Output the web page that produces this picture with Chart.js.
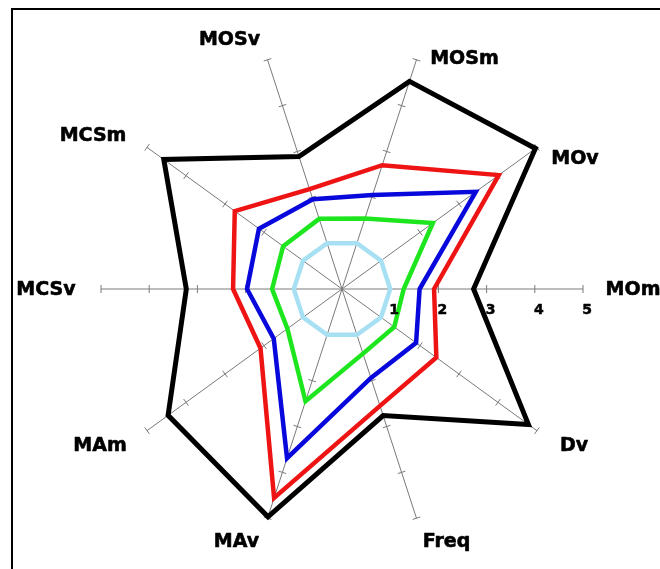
<!DOCTYPE html>
<html>
<head>
<meta charset="utf-8">
<title>Radar profile</title>
<script src="https://cdn.jsdelivr.net/npm/chart.js@4.4.1/dist/chart.umd.min.js"></script>
<style>
  html, body { margin: 0; padding: 0; background: #ffffff; }
  #wrap { position: relative; width: 660px; height: 569px; overflow: hidden; }
  canvas { display: block; }
</style>
</head>
<body>
<div id="wrap"><canvas id="radar" width="660" height="569"></canvas></div>
<script>
// Axis names, clockwise starting from the right-hand axis
const categories = ['MOm', 'Dv', 'Freq', 'MAv', 'MAm', 'MCSv', 'MCSm', 'MOSv', 'MOSm', 'MOv'];

// Series values, one per axis
const outerSeries = [2.73, 4.78, 2.76, 4.97, 4.46, 3.23, 4.57, 2.89, 4.53, 4.96];
const redSeries   = [1.91, 2.42, 2.55, 4.56, 2.09, 2.26, 2.75, 2.18, 2.70, 4.02];
const blueSeries  = [1.61, 1.90, 1.94, 3.69, 1.75, 1.97, 2.13, 1.96, 2.05, 3.43];
const greenSeries = [1.28, 1.34, 1.41, 2.45, 1.40, 1.45, 1.51, 1.53, 1.54, 2.33];
const innerSeries = [1, 1, 1, 1, 1, 1, 1, 1, 1, 1];

// Scale tick values shown along the first axis
const tickValues = [1, 2, 3, 4, 5];

// Label nudges (px) from each axis end, and style settings
const labelNudge = [[50, 1], [37, 15], [30, 24], [-31, 24], [-47, 15], [-55, 1], [-54, -11], [-38, -20], [48, -1], [38, 12]];
const labelFont = 'bold 19px "DejaVu Sans", Verdana, sans-serif';
const tickFont = 'bold 14px "DejaVu Sans", Verdana, sans-serif';
const axisColor = '#7a7a7a';

// draws text a touch heavier than the plain bold face
function heavyText(ctx, text, x, y, weight) {
  ctx.lineWidth = weight;
  ctx.strokeStyle = ctx.fillStyle;
  ctx.lineJoin = 'round';
  ctx.strokeText(text, x, y);
  ctx.fillText(text, x, y);
}

const axisDecor = {
  id: 'axisDecor',
  beforeDraw(chart) {
    const ctx = chart.ctx;
    ctx.save();
    ctx.fillStyle = '#ffffff';
    ctx.fillRect(0, 0, chart.width, chart.height);
    ctx.strokeStyle = '#000000';
    ctx.lineWidth = 2;
    ctx.strokeRect(12, 9, 1000, 1000);
    ctx.restore();
  },
  beforeDatasetsDraw(chart) {
    // small cross ticks on every axis at each integer step
    const scale = chart.scales.r;
    const ctx = chart.ctx;
    ctx.save();
    ctx.strokeStyle = axisColor;
    ctx.lineWidth = 1;
    for (let i = 0; i < categories.length; i++) {
      const a = scale.getIndexAngle(i) - Math.PI / 2;
      const nx = -Math.sin(a), ny = Math.cos(a);
      tickValues.forEach(v => {
        const p = scale.getPointPositionForValue(i, v);
        ctx.beginPath();
        ctx.moveTo(p.x - nx * 4, p.y - ny * 4);
        ctx.lineTo(p.x + nx * 4, p.y + ny * 4);
        ctx.stroke();
      });
    }
    ctx.restore();
  },
  afterDatasetsDraw(chart) {
    const scale = chart.scales.r;
    const ctx = chart.ctx;
    ctx.save();
    ctx.fillStyle = '#000000';
    ctx.textAlign = 'center';
    ctx.textBaseline = 'middle';
    // tick numbers under the first axis
    ctx.font = tickFont;
    tickValues.forEach(v => {
      const p = scale.getPointPositionForValue(0, v);
      heavyText(ctx, String(v), p.x + 4, p.y + 21, 0.5);
    });
    // axis names beyond the axis ends
    ctx.font = labelFont;
    categories.forEach((name, i) => {
      const p = scale.getPointPosition(i, scale.drawingArea);
      heavyText(ctx, name, p.x + labelNudge[i][0], p.y + labelNudge[i][1], 0.6);
    });
    ctx.restore();
  }
};

function line(data, color, width) {
  return {
    data: data,
    borderColor: color,
    backgroundColor: 'transparent',
    borderWidth: width,
    fill: false,
    pointRadius: 0,
    pointHoverRadius: 0,
    tension: 0,
    borderJoinStyle: 'miter'
  };
}

new Chart(document.getElementById('radar'), {
  type: 'radar',
  data: {
    labels: categories,
    datasets: [
      line(innerSeries, '#a8e0f3', 4.5),
      line(greenSeries, '#1ee61e', 4.5),
      line(blueSeries, '#0808dc', 4.5),
      line(redSeries, '#ee1414', 4.5),
      line(outerSeries, '#000000', 5)
    ]
  },
  plugins: [axisDecor],
  options: {
    responsive: false,
    animation: false,
    events: [],
    layout: { padding: { left: 101, right: 77, top: 48, bottom: 39 } },
    plugins: { legend: { display: false }, tooltip: { enabled: false } },
    scales: {
      r: {
        min: 0,
        max: 5,
        startAngle: 90,
        ticks: { display: false, stepSize: 1 },
        grid: { display: false },
        angleLines: { display: true, color: axisColor, lineWidth: 1 },
        pointLabels: { display: false }
      }
    }
  }
});
</script>
</body>
</html>
